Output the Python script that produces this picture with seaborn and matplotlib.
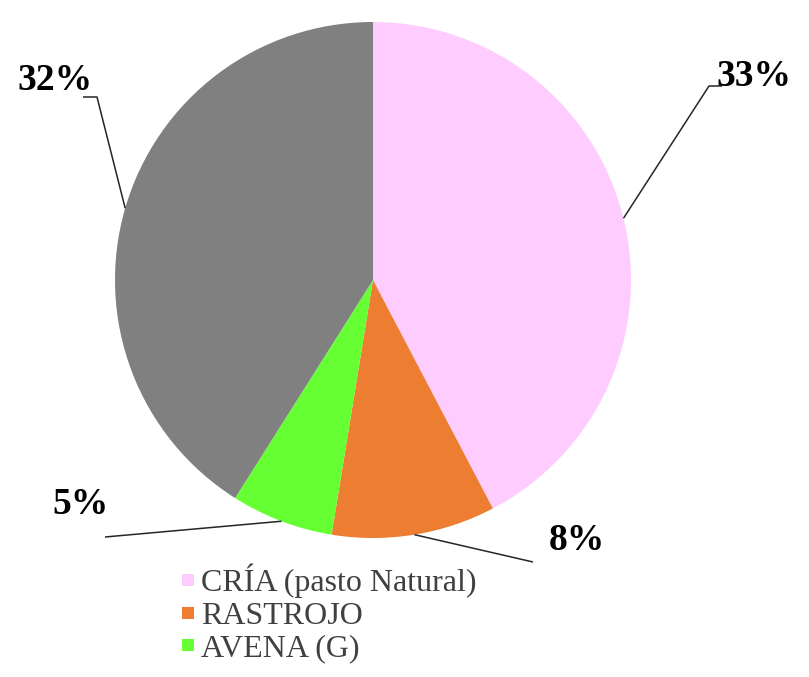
import numpy as np
import matplotlib
matplotlib.use("Agg")
import matplotlib.pyplot as plt
import seaborn as sns
from matplotlib.lines import Line2D

# Data
categories = ["CRÍA (pasto Natural)", "RASTROJO", "AVENA (G)", "OTROS"]
values = [33, 8, 5, 32]
pct_labels = ["33%", "8%", "5%", "32%"]
colors = ["#FFCCFF", "#ED7D31", "#66FF33", "#808080"]

sns.set_theme(style="white")
plt.rcParams['font.family'] = ['Liberation Serif', 'DejaVu Serif']

W, H = 809, 677
fig = plt.figure(figsize=(W / 100, H / 100), dpi=100)
ax = fig.add_axes([0, 0, 1, 1])

cx, cy, r = 373, H - 280, 258
wedges, _ = ax.pie(values, colors=sns.color_palette(colors), startangle=90,
                   counterclock=False, center=(cx, cy), radius=r,
                   wedgeprops=dict(linewidth=0))
ax.set_xlim(0, W)
ax.set_ylim(0, H)
ax.set_aspect('equal')
ax.axis('off')

# leader lines: (elbow, end, text position) in pixel layout (y from top)
leaders = [
    ((709, 86), (722, 86), (754, 77)),
    ((533, 562), (533, 562), (577, 541)),
    ((105, 537), (105, 537), (81, 505)),
    ((97, 97), (83, 97), (55, 80)),
]
for w, lab, (elb, end, txt) in zip(wedges, pct_labels, leaders):
    ang = np.deg2rad((w.theta1 + w.theta2) / 2)
    x0, y0 = cx + r * np.cos(ang), cy + r * np.sin(ang)
    xs = [x0, elb[0], end[0]]
    ys = [y0, H - elb[1], H - end[1]]
    ax.plot(xs, ys, color='#262626', lw=1.1, solid_capstyle='butt')
    ax.text(txt[0], H - txt[1], lab, ha='center', va='center',
            fontsize=27, fontweight='bold', color='black')

handles = [Line2D([0], [0], marker='s', linestyle='none', markersize=8,
                  markerfacecolor=c, markeredgewidth=0) for c in colors[:3]]
leg = fig.legend(handles, categories[:3], loc='upper left',
                 bbox_to_anchor=(164 / W, 1 - 548 / H), frameon=False,
                 handlelength=0.5, handletextpad=0.15, labelspacing=0.1,
                 borderpad=0, prop={'family': 'Liberation Serif', 'size': 23})
for t in leg.get_texts():
    t.set_color('#404040')

fig.savefig('out.png', dpi=100)
